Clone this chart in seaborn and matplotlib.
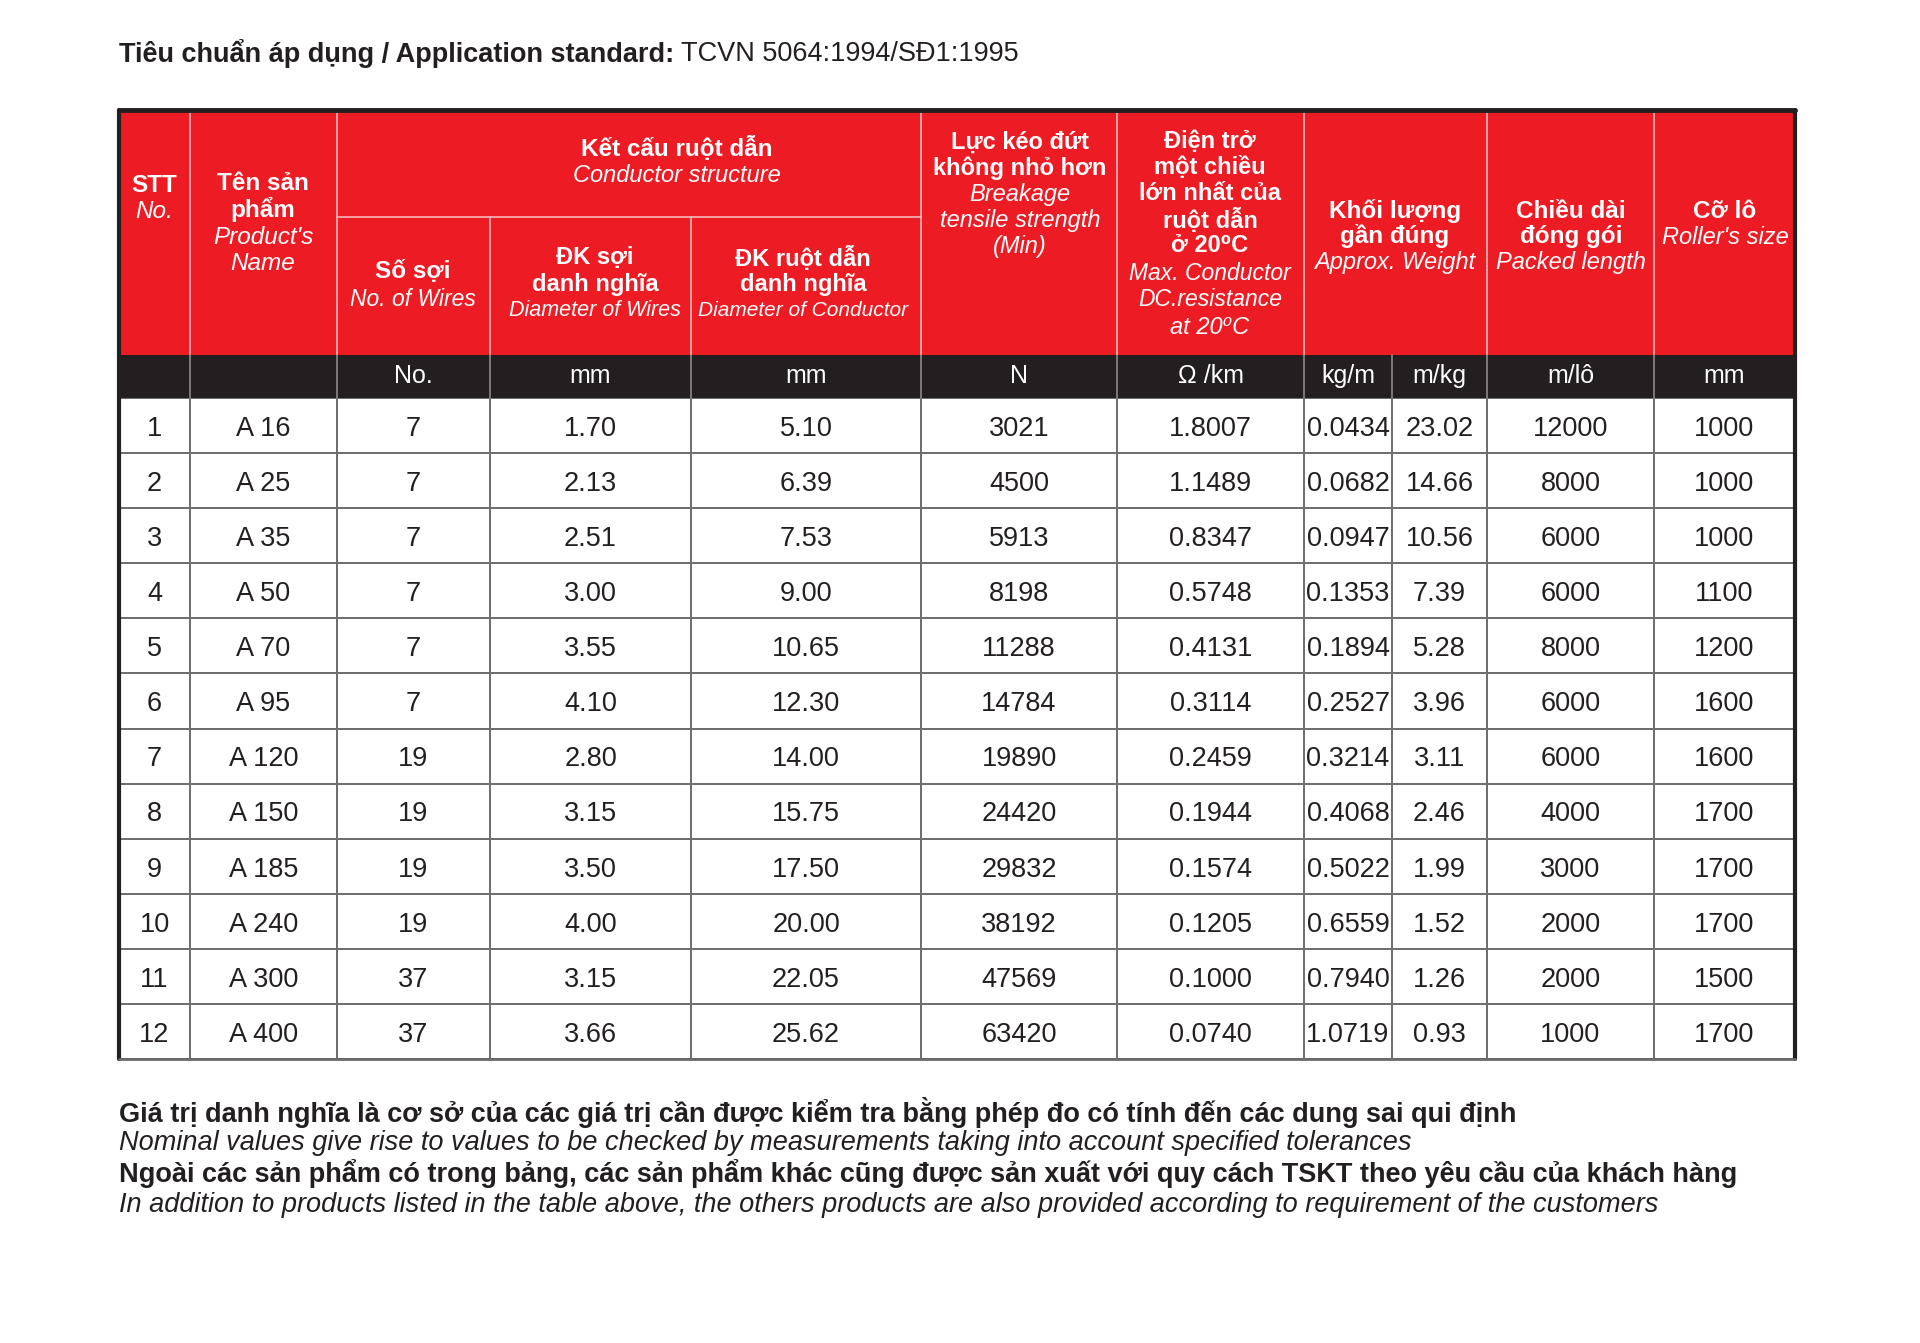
import numpy as np
import pandas as pd
import matplotlib
matplotlib.use("Agg")
import matplotlib.pyplot as plt
import seaborn as sns
from matplotlib import font_manager
from matplotlib.colors import ListedColormap

sns.set_theme(style="white")

# pick a condensed font if there is one
names = {f.name for f in font_manager.fontManager.ttflist}
narrow = "Liberation Sans Narrow" if "Liberation Sans Narrow" in names else "Liberation Sans"
FAM = [narrow, "Liberation Sans", "DejaVu Sans"]
plt.rcParams['font.family'] = FAM

# Data
stt = ["1", "2", "3", "4", "5", "6", "7", "8", "9", "10", "11", "12"]
products = ["A 16", "A 25", "A 35", "A 50", "A 70", "A 95", "A 120", "A 150", "A 185", "A 240", "A 300", "A 400"]
wires = ["7", "7", "7", "7", "7", "7", "19", "19", "19", "19", "37", "37"]
wire_dia = ["1.70", "2.13", "2.51", "3.00", "3.55", "4.10", "2.80", "3.15", "3.50", "4.00", "3.15", "3.66"]
cond_dia = ["5.10", "6.39", "7.53", "9.00", "10.65", "12.30", "14.00", "15.75", "17.50", "20.00", "22.05", "25.62"]
tensile = ["3021", "4500", "5913", "8198", "11288", "14784", "19890", "24420", "29832", "38192", "47569", "63420"]
resistance = ["1.8007", "1.1489", "0.8347", "0.5748", "0.4131", "0.3114", "0.2459", "0.1944", "0.1574", "0.1205", "0.1000", "0.0740"]
kg_per_m = ["0.0434", "0.0682", "0.0947", "0.1353", "0.1894", "0.2527", "0.3214", "0.4068", "0.5022", "0.6559", "0.7940", "1.0719"]
m_per_kg = ["23.02", "14.66", "10.56", "7.39", "5.28", "3.96", "3.11", "2.46", "1.99", "1.52", "1.26", "0.93"]
packed = ["12000", "8000", "6000", "6000", "8000", "6000", "6000", "4000", "3000", "2000", "2000", "1000"]
roller = ["1000", "1000", "1000", "1100", "1200", "1600", "1600", "1700", "1700", "1700", "1500", "1700"]

units = ["", "", "No.", "mm", "mm", "N", "Ω /km", "kg/m", "m/kg", "m/lô", "mm"]

title_bold = "Tiêu chuẩn áp dụng / Application standard:"
title_rest = " TCVN 5064:1994/SĐ1:1995"
notes = [
    ("Giá trị danh nghĩa là cơ sở của các giá trị cần được kiểm tra bằng phép đo có tính đến các dung sai qui định", "bold"),
    ("Nominal values give rise to values to be checked by measurements taking into account specified tolerances", "italic"),
    ("Ngoài các sản phẩm có trong bảng, các sản phẩm khác cũng được sản xuất với quy cách TSKT theo yêu cầu của khách hàng", "bold"),
    ("In addition to products listed in the table above, the others products are also provided according to requirement of the customers", "italic"),
]

df = pd.DataFrame({
    "stt": stt, "product": products, "wires": wires, "wire_dia": wire_dia,
    "cond_dia": cond_dia, "tensile": tensile, "resistance": resistance,
    "kg_per_m": kg_per_m, "m_per_kg": m_per_kg, "packed": packed, "roller": roller,
})

# Layout (pixels)
W, H = 1920, 1343
col_x = [119, 190, 337, 490, 691, 921, 1117, 1304, 1392, 1487, 1654, 1795]
top, red_bot, band_bot, body_bot = 110, 355, 398, 1059
RED = "#ed1c24"
DARK = "#231f20"
GRID = "#6f6f6f"

fig = plt.figure(figsize=(19.2, 13.43), dpi=100)

# body: one heatmap per column so widths can differ
white = ListedColormap(["white"])
for j, col in enumerate(df.columns):
    x0, x1 = col_x[j], col_x[j + 1]
    cax = fig.add_axes([x0 / W, 1 - body_bot / H, (x1 - x0) / W, (body_bot - band_bot) / H])
    vals = pd.to_numeric(df[col].str.replace("A ", ""), errors="coerce")
    sns.heatmap(vals.to_frame(), annot=df[[col]].values, fmt="", cmap=white, cbar=False,
                linewidths=1.4, linecolor=GRID, xticklabels=False, yticklabels=False, ax=cax,
                annot_kws=dict(fontsize=19.5, color=DARK, family=FAM))
    for t in cax.texts:
        t.set_y(t.get_position()[1] + 0.06)
    cax.set_xlabel("")
    cax.set_ylabel("")

# overlay axes in pixel coordinates for header, borders and notes
ax = fig.add_axes([0, 0, 1, 1])
ax.set_xlim(0, W)
ax.set_ylim(H, 0)
ax.axis("off")
ax.patch.set_alpha(0)

# title
t = ax.text(119, 54, title_bold, fontsize=19.5, fontweight="bold", color=DARK, va="center", ha="left")
fig.canvas.draw()
x_end = t.get_window_extent().x1  # pixel coords == data coords here
ax.text(x_end, 54, title_rest, fontsize=19.5, color=DARK, va="center", ha="left")

# header blocks
ax.add_patch(plt.Rectangle((col_x[0], top), col_x[-1] - col_x[0], red_bot - top, color=RED, lw=0))
ax.add_patch(plt.Rectangle((col_x[0], red_bot), col_x[-1] - col_x[0], band_bot - red_bot, color=DARK, lw=0))

# header separators
hdr_lines = [190, 337, 921, 1117, 1304, 1487, 1654]
for x in hdr_lines:
    ax.plot([x, x], [top, red_bot], color="#f6b9bb", lw=1.2)
for x in [490, 691]:
    ax.plot([x, x], [217, red_bot], color="#f6b9bb", lw=1.2)
ax.plot([337, 921], [217, 217], color="#f6b9bb", lw=1.2)
for x in col_x[1:-1]:
    ax.plot([x, x], [red_bot, band_bot], color="#8a8a8a", lw=1.2)

# header texts: (x, y, text, style, size)
hdr = [
    (154, 185, "STT", "b", 17.5), (154, 211, "No.", "i", 17.5),
    (263, 184, "Tên sản", "b", 17.5), (263, 209, "phẩm", "b", 17.5),
    (263, 238, "Product's", "i", 17.5), (263, 263, "Name", "i", 17.5),
    (677, 148, "Kết cấu ruột dẫn", "b", 17.5), (677, 175, "Conductor structure", "i", 17),
    (413, 272, "Số sợi", "b", 17.5), (413, 299, "No. of Wires", "i", 16.5),
    (595, 258, "ĐK sợi", "b", 17), (595, 284, "danh nghĩa", "b", 17),
    (595, 311, "Diameter of Wires", "i", 15.5),
    (803, 258, "ĐK ruột dẫn", "b", 17), (803, 284, "danh nghĩa", "b", 17),
    (803, 311, "Diameter of Conductor", "i", 15),
    (1020, 142, "Lực kéo đứt", "b", 17), (1020, 168, "không nhỏ hơn", "b", 17),
    (1020, 195, "Breakage", "i", 17),
    (1020, 220, "tensile strength", "i", 17), (1020, 247, "(Min)", "i", 17),
    (1210, 142, "Điện trở", "b", 17), (1210, 168, "một chiều", "b", 17),
    (1210, 193, "lớn nhất của", "b", 17),
    (1210, 220, "ruột dẫn", "b", 17), (1210, 246, "ở 20⁰C", "b", 17),
    (1210, 274, "Max. Conductor", "i", 16.5),
    (1210, 300, "DC.resistance", "i", 16.5), (1210, 327, "at 20⁰C", "i", 17),
    (1395, 211, "Khối lượng", "b", 17.5), (1395, 236, "gần đúng", "b", 17.5),
    (1395, 263, "Approx. Weight", "i", 17),
    (1571, 211, "Chiều dài", "b", 17.5), (1571, 236, "đóng gói", "b", 17.5),
    (1571, 263, "Packed length", "i", 17),
    (1725, 211, "Cỡ lô", "b", 17.5), (1725, 238, "Roller's size", "i", 17),
]
for x, y, s, st, fs in hdr:
    ax.text(x, y, s, ha="center", va="center", color="white", fontsize=fs,
            fontweight="bold" if st == "b" else "normal",
            fontstyle="italic" if st == "i" else "normal")

# unit band
for j, u in enumerate(units):
    if u:
        ax.text((col_x[j] + col_x[j + 1]) / 2, 376, u, ha="center", va="center",
                color="white", fontsize=18)

# outer borders
ax.plot([col_x[0], col_x[-1]], [top, top], color=DARK, lw=3.5)
ax.plot([col_x[0], col_x[0]], [top, body_bot], color=DARK, lw=3)
ax.plot([col_x[-1], col_x[-1]], [top, body_bot], color=DARK, lw=3)
ax.plot([col_x[0], col_x[-1]], [body_bot, body_bot], color="#6a6a6a", lw=2)

# notes
for k, (s, st) in enumerate(notes):
    ax.text(119, 1113 + k * 30.5, s, ha="left", va="center", color=DARK, fontsize=19.5,
            fontweight="bold" if st == "bold" else "normal",
            fontstyle="italic" if st == "italic" else "normal")

fig.savefig("out.png", dpi=100, facecolor="white")
